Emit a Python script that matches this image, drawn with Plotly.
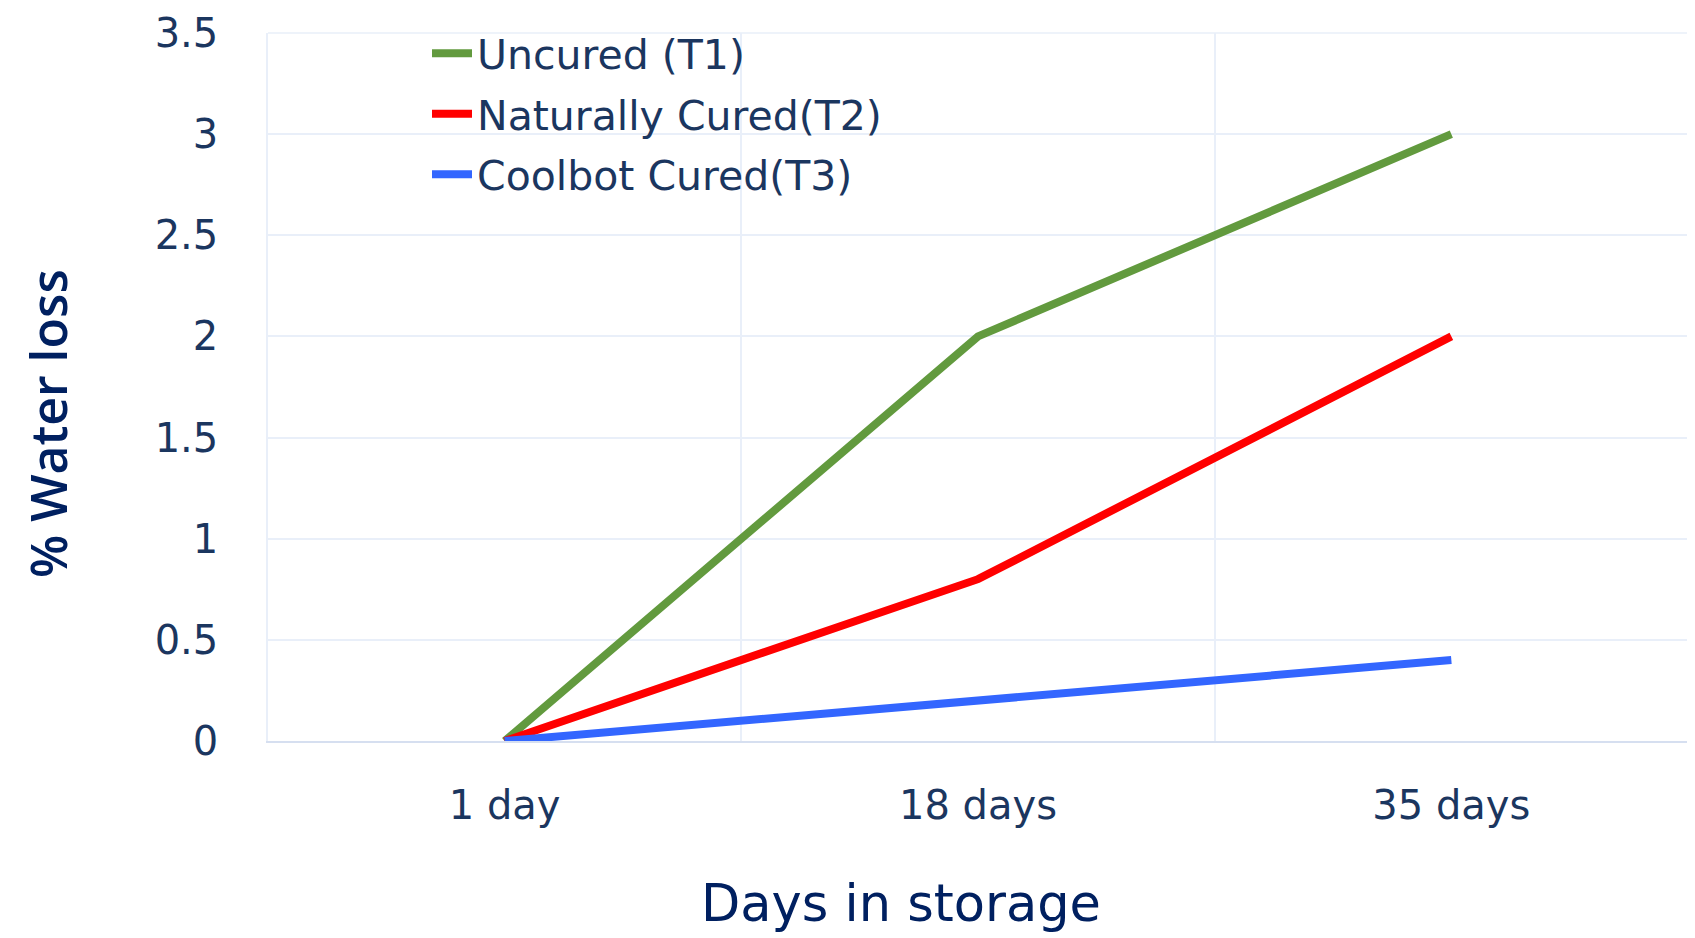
import plotly.graph_objects as go

categories = ["1 day", "18 days", "35 days"]
uncured_t1 = [0, 2, 3]
natural_t2 = [0, 0.8, 2]
coolbot_t3 = [0, 0.2, 0.4]
series_names = ["Uncured (T1)", "Naturally Cured(T2)", "Coolbot Cured(T3)"]
series_colors = ["#629a3e", "#ff0000", "#3366ff"]
x_title = "Days in storage"
y_title = "% Water loss"

TXT = "#1b365f"
TITLE = "#002060"
FONT = "DejaVu Sans"
GRID = "#e9eff9"

W, H = 1695, 938
L, R, T, B = 260, 15, 25, 205
PW, PH = W - L - R, H - T - B


def px_x(px):
    return (px - L) / PW


def px_y(py):
    return (H - B - py) / PH


fig = go.Figure()
legend_ids = ["legend", "legend2", "legend3"]
legend_rows_px = [45.5, 106, 166.5]
for name, vals, col, lid in zip(series_names, [uncured_t1, natural_t2, coolbot_t3],
                                series_colors, legend_ids):
    fig.add_trace(go.Scatter(x=categories, y=vals, mode="lines", name=name,
                             line=dict(color=col, width=8), legend=lid))

leg_common = dict(xanchor="left", yanchor="middle", bgcolor="rgba(0,0,0,0)",
                  font=dict(size=41, color=TXT, family=FONT), itemwidth=40)
legends = {}
for lid, ry in zip(legend_ids, legend_rows_px):
    legends[lid] = dict(x=px_x(419), y=px_y(ry), **leg_common)

fig.update_layout(
    width=W, height=H,
    margin=dict(l=L, r=R, t=T, b=B, autoexpand=False),
    paper_bgcolor="white", plot_bgcolor="white",
    font=dict(family=FONT, color=TXT, size=40),
    showlegend=True,
    **legends,
)
fig.update_xaxes(type="category", range=[-0.5, 2.5], tickson="boundaries",
                 showgrid=True, gridcolor=GRID, gridwidth=1.5,
                 showline=True, linecolor="#d6dff0", linewidth=2, mirror=False,
                 ticks="", ticklabelstandoff=28,
                 tickfont=dict(size=40, color=TXT, family=FONT))
fig.update_yaxes(range=[0, 3.5], dtick=0.5, showgrid=True, gridcolor=GRID, gridwidth=1.5,
                 zeroline=False, showline=True, linecolor=GRID, linewidth=1.5,
                 ticks="", ticklabelstandoff=40, ticklabeloverflow="allow",
                 tickfont=dict(size=40, color=TXT, family=FONT))
fig.add_shape(type="line", xref="paper", yref="paper", x0=1, x1=1, y0=0, y1=1,
              line=dict(color=GRID, width=1.5), layer="below")
fig.add_shape(type="line", xref="paper", yref="paper", x0=0, x1=1, y0=1, y1=1,
              line=dict(color=GRID, width=1.5), layer="below")

fig.add_annotation(text=x_title, xref="paper", yref="paper", x=px_x(893), y=px_y(896),
                   xanchor="center", yanchor="middle", showarrow=False,
                   font=dict(size=51, color=TITLE, family=FONT))
fig.add_annotation(text=y_title, xref="paper", yref="paper", x=px_x(40), y=px_y(416),
                   xanchor="center", yanchor="middle", showarrow=False, textangle=-90,
                   borderpad=0,
                   font=dict(size=50, color=TITLE, family="Open Sans", weight=600))

fig.write_html("out.html")
